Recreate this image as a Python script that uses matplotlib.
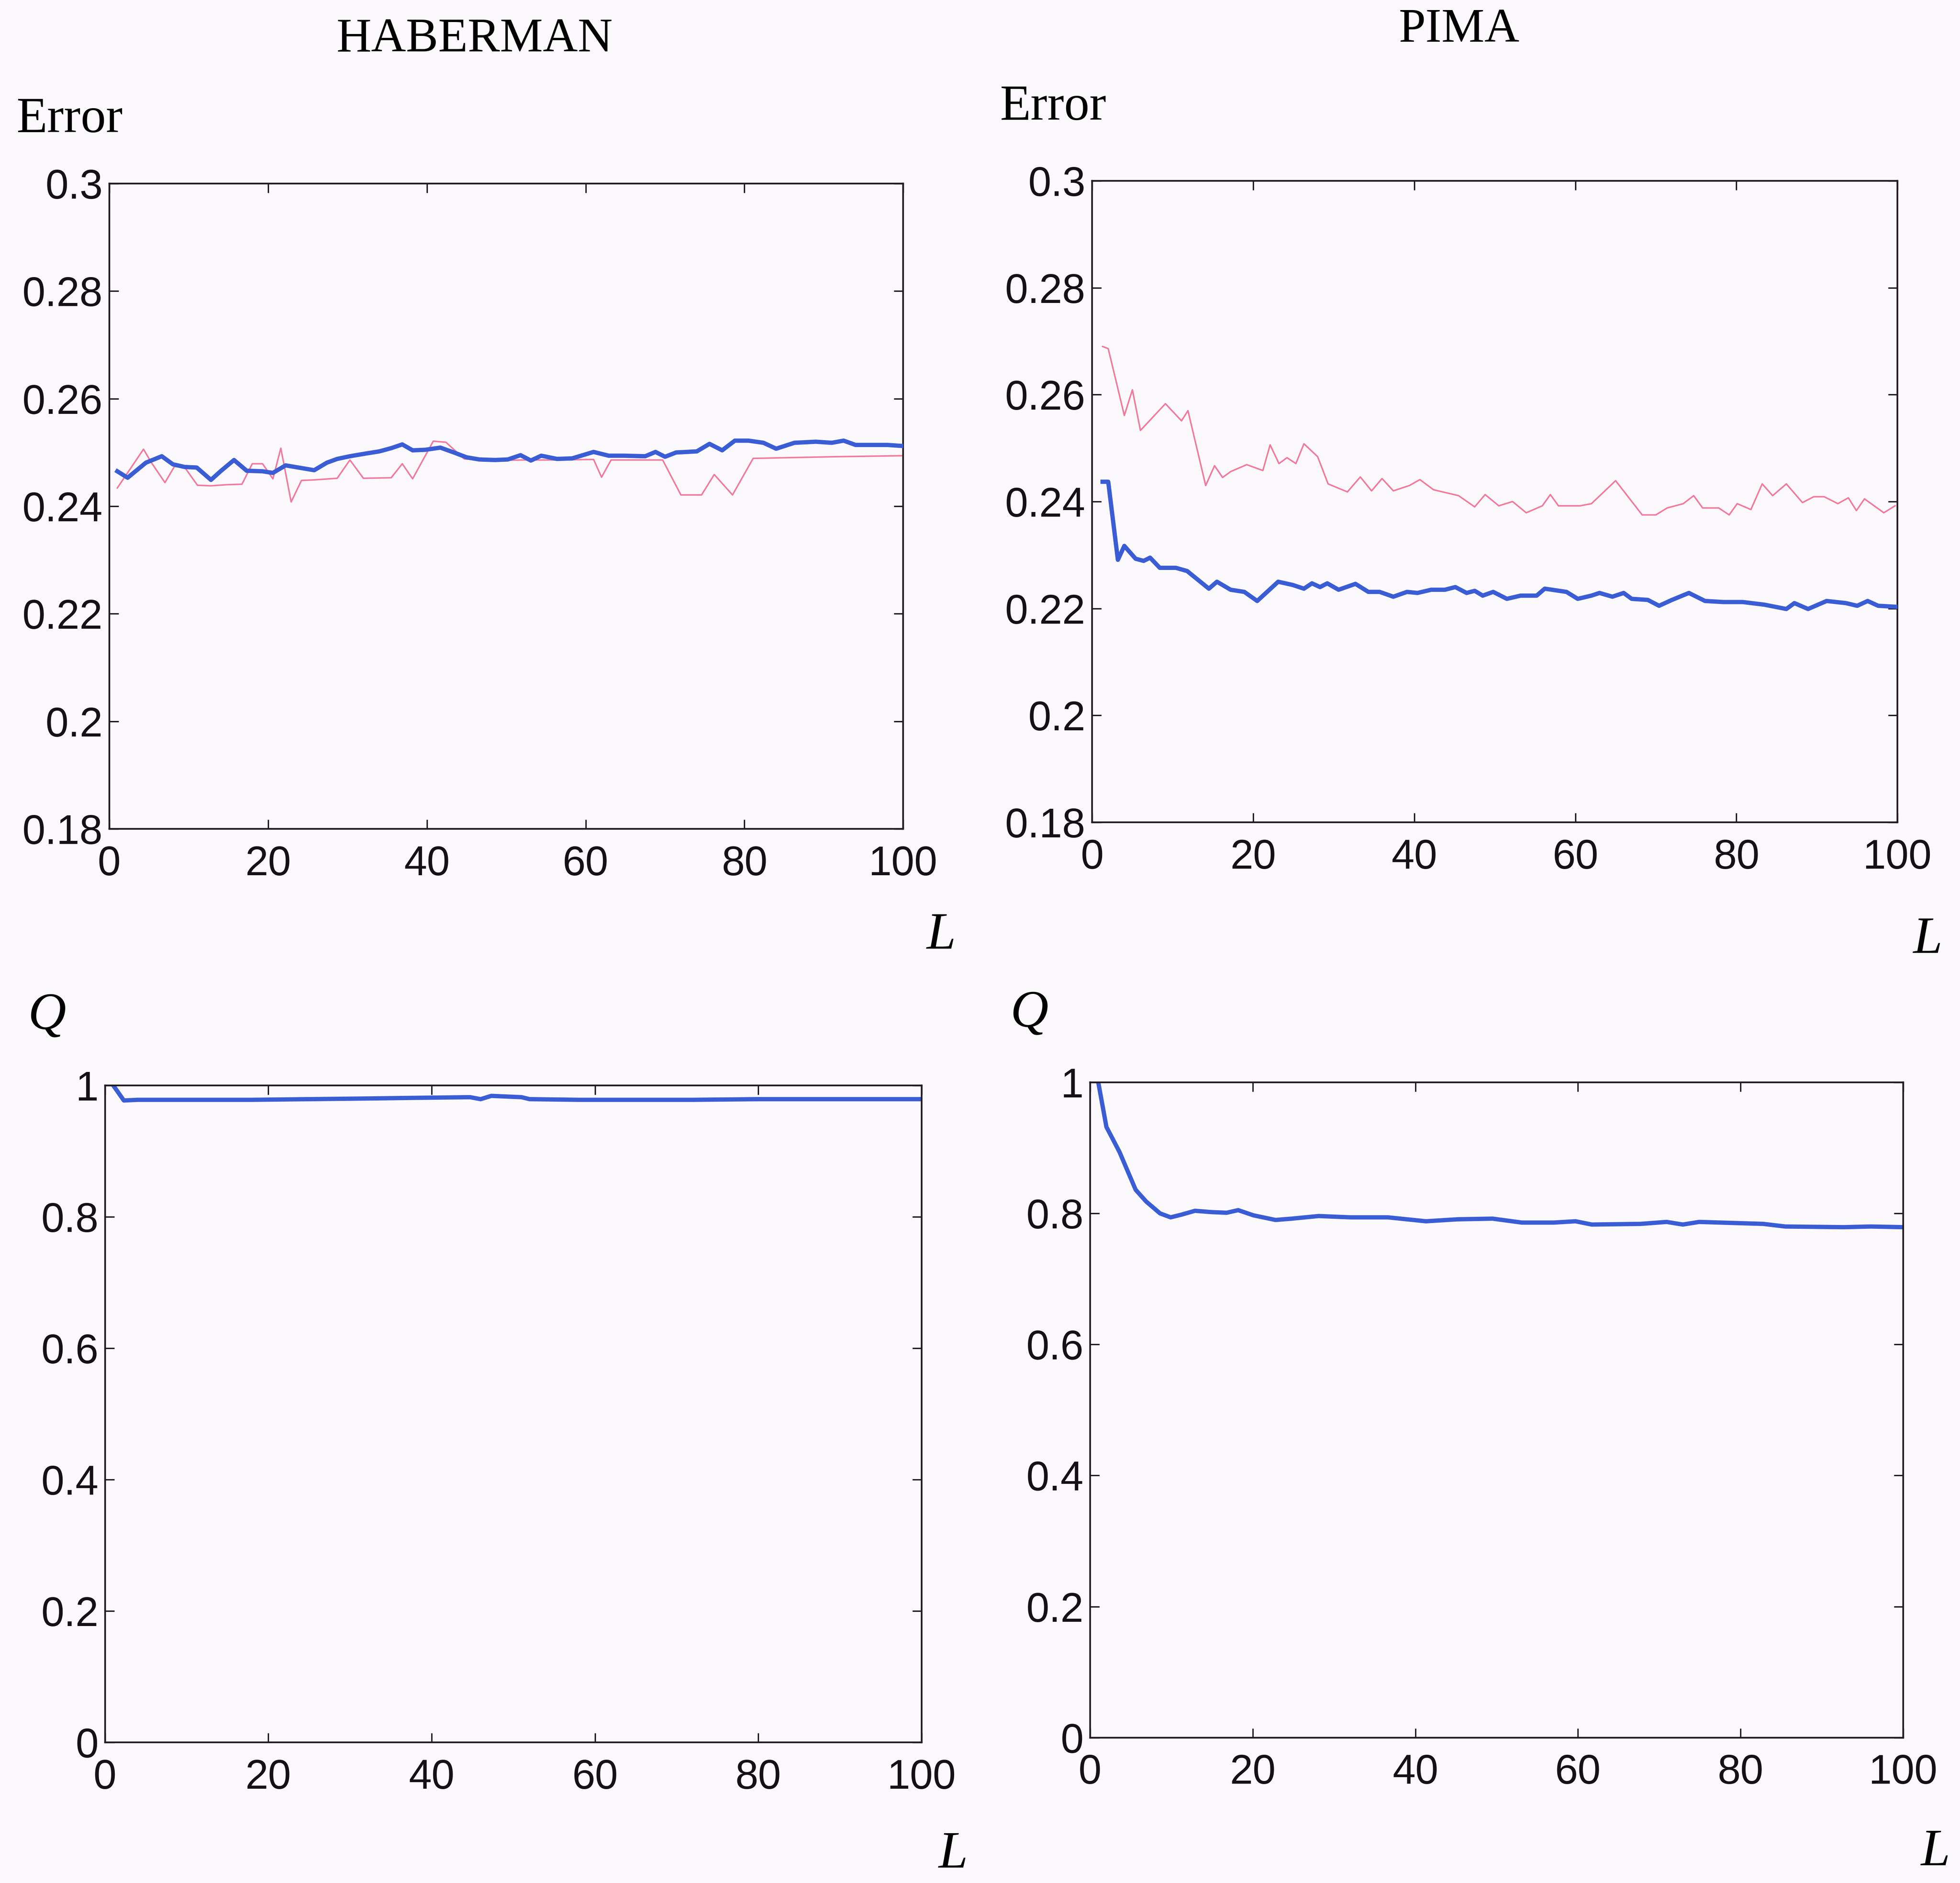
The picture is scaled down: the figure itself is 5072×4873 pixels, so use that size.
import numpy as np
import matplotlib.pyplot as plt

# ---- données ----

# HABERMAN, erreur : courbe bleue (épaisse)
hab_L_bleu = [1, 2.3, 4.6, 6.6, 8, 9.5, 11, 12.8, 14, 15.7, 17.3, 19.3, 20.6,
              22.2, 24.2, 25.8, 27.4, 28.7, 30.3, 32.3, 34, 35.5, 36.9, 38.2,
              39.8, 41.7, 43.4, 45, 46.6, 48.6, 50.2, 51.8, 53.1, 54.4, 56.4,
              58.3, 61, 62.9, 64.8, 67.5, 68.8, 70, 71.4, 74, 75.6, 77.2, 78.8,
              80.5, 82.4, 84, 86.3, 89, 91, 92.5, 94, 96.1, 98, 100]
hab_err_bleu = [0.2465, 0.2453, 0.2481, 0.2493, 0.2478, 0.2473, 0.2472, 0.2449,
                0.2465, 0.2486, 0.2466, 0.2465, 0.2462, 0.2476, 0.2471, 0.2467,
                0.2481, 0.2488, 0.2493, 0.2498, 0.2502, 0.2508, 0.2515, 0.2504,
                0.2505, 0.2509, 0.2500, 0.2491, 0.2487, 0.2486, 0.2487, 0.2495,
                0.2485, 0.2494, 0.2488, 0.2489, 0.2501, 0.2494, 0.2494, 0.2493,
                0.2501, 0.2492, 0.2500, 0.2502, 0.2516, 0.2504, 0.2522, 0.2522,
                0.2518, 0.2507, 0.2518, 0.2520, 0.2518, 0.2522, 0.2514, 0.2514,
                0.2514, 0.2512]

# HABERMAN, erreur : courbe rose (fine)
hab_L_rose = [1, 4.3, 5.3, 7, 8.2, 9.5, 11.1, 12.8, 14.7, 16.7, 18, 19.3, 20.6,
              21.6, 22.9, 24.2, 25.8, 28.7, 30.3, 32, 35.5, 36.9, 38.2, 40.8,
              42.4, 44.7, 48.6, 52, 56, 61, 62, 63.2, 69.7, 72, 74.6, 76.2,
              78.5, 81.1, 91, 100]
hab_err_rose = [0.2434, 0.2506, 0.2481, 0.2444, 0.2474, 0.2472, 0.2439, 0.2438,
                0.2440, 0.2441, 0.2479, 0.2479, 0.2451, 0.2508, 0.2408, 0.2448,
                0.2449, 0.2452, 0.2486, 0.2452, 0.2453, 0.2479, 0.2451, 0.2521,
                0.2519, 0.2488, 0.2485, 0.2486, 0.2486, 0.2487, 0.2454, 0.2486,
                0.2486, 0.2421, 0.2421, 0.2459, 0.2421, 0.2489, 0.2492, 0.2494]

# PIMA, erreur : courbe rose
pima_L_rose = [1.3, 2, 4, 5, 6, 9.1, 11.1, 11.9, 14.1, 15.2, 16.2, 17.2, 19.2,
               21.2, 22.1, 23.2, 24.2, 25.3, 26.3, 28, 29.3, 31.7, 33.3, 34.7,
               36, 37.4, 39.4, 40.7, 42.4, 45.5, 47.5, 48.8, 50.5, 52.2, 53.9,
               55.9, 56.9, 57.9, 60.6, 62, 65, 68.3, 70, 71.4, 73.4, 74.7, 75.8,
               77.8, 79.1, 80.1, 81.8, 83.2, 84.5, 86.2, 88.2, 89.6, 90.9, 92.6,
               93.9, 94.9, 95.9, 98.3, 99.7]
pima_err_rose = [0.2690, 0.2686, 0.2561, 0.2609, 0.2533, 0.2583, 0.2551, 0.2570,
                 0.2430, 0.2467, 0.2445, 0.2456, 0.2469, 0.2458, 0.2506, 0.2471,
                 0.2482, 0.2471, 0.2508, 0.2484, 0.2433, 0.2418, 0.2446, 0.2420,
                 0.2443, 0.2420, 0.2430, 0.2441, 0.2422, 0.2411, 0.2390, 0.2413,
                 0.2392, 0.2400, 0.2379, 0.2392, 0.2413, 0.2392, 0.2392, 0.2396,
                 0.2439, 0.2375, 0.2375, 0.2388, 0.2396, 0.2411, 0.2388, 0.2388,
                 0.2375, 0.2396, 0.2385, 0.2433, 0.2411, 0.2433, 0.2398, 0.2409,
                 0.2409, 0.2396, 0.2407, 0.2383, 0.2405, 0.2379, 0.2392]

# PIMA, erreur : courbe bleue
pima_L_bleu = [1.3, 2, 3.2, 4, 5.4, 6.4, 7.2, 8.4, 10.4, 11.8, 14.5, 15.5, 17.2,
               18.9, 20.5, 23.1, 24.9, 26.3, 27.3, 28.3, 29.2, 30.6, 32.7, 34.3,
               35.7, 37.4, 39.1, 40.4, 42.1, 43.8, 45.1, 46.5, 47.5, 48.5, 49.8,
               51.5, 53.2, 55.2, 56.2, 58.9, 60.3, 62, 63, 64.6, 66, 67, 69,
               70.4, 72, 74.1, 76.1, 78.4, 80.8, 83.5, 86.2, 87.2, 88.9, 91.2,
               93.6, 95, 96.3, 97.6, 100]
pima_err_bleu = [0.2437, 0.2437, 0.2291, 0.2317, 0.2293, 0.2289, 0.2295, 0.2276,
                 0.2276, 0.2270, 0.2237, 0.2250, 0.2235, 0.2231, 0.2214, 0.2250,
                 0.2244, 0.2237, 0.2247, 0.2240, 0.2247, 0.2235, 0.2246, 0.2231,
                 0.2231, 0.2222, 0.2231, 0.2229, 0.2235, 0.2235, 0.2240, 0.2229,
                 0.2233, 0.2224, 0.2231, 0.2218, 0.2224, 0.2224, 0.2237, 0.2231,
                 0.2218, 0.2224, 0.2229, 0.2222, 0.2229, 0.2218, 0.2216, 0.2205,
                 0.2216, 0.2229, 0.2214, 0.2212, 0.2212, 0.2207, 0.2199, 0.2210,
                 0.2199, 0.2214, 0.2210, 0.2205, 0.2214, 0.2205, 0.2203]

# HABERMAN, Q
hab_L_q = [1, 2.3, 4, 10, 18, 25, 32, 38, 44.7, 46, 47.3, 51, 52, 58, 64, 72,
           80, 90, 100]
hab_q = [1.0, 0.977, 0.978, 0.978, 0.978, 0.979, 0.980, 0.981, 0.982, 0.979,
         0.984, 0.982, 0.979, 0.978, 0.978, 0.978, 0.979, 0.979, 0.979]

# PIMA, Q
pima_L_q = [1, 2, 3.6, 5.6, 6.9, 8.6, 9.9, 11.2, 12.9, 14.9, 16.8, 18.2, 20.1,
            22.8, 24.8, 28.1, 32, 36.6, 41.3, 45.2, 49.5, 53.1, 57, 59.7, 61.7,
            67.7, 70.9, 72.9, 74.9, 82.8, 85.5, 92.7, 96, 100]
pima_q = [1.0, 0.932, 0.894, 0.836, 0.818, 0.800, 0.794, 0.798, 0.804, 0.802,
          0.801, 0.805, 0.797, 0.790, 0.792, 0.796, 0.794, 0.794, 0.788, 0.791,
          0.792, 0.786, 0.786, 0.788, 0.783, 0.784, 0.787, 0.783, 0.787, 0.784,
          0.780, 0.779, 0.780, 0.779]

x_ticks = [0, 20, 40, 60, 80, 100]
err_ticks = [0.18, 0.2, 0.22, 0.24, 0.26, 0.28, 0.3]
q_ticks = [0, 0.2, 0.4, 0.6, 0.8, 1]

# ---- style ----
bleu = '#3b5dd4'
rose = '#f27a9c'
fond = '#fbf9fc'
sans = 'Liberation Sans'
serif = 'Liberation Serif'

fig = plt.figure(figsize=(50.72, 48.73), dpi=100, facecolor=fond)

# position des 4 axes (fractions de la figure)
ax_tl = fig.add_axes([0.0558, 0.5598, 0.4050, 0.3427])
ax_tr = fig.add_axes([0.5572, 0.5633, 0.4109, 0.3407])
ax_bl = fig.add_axes([0.0536, 0.0747, 0.4166, 0.3489])
ax_br = fig.add_axes([0.5562, 0.0772, 0.4148, 0.3480])


def fmt(v):
    return ('%g' % v)


def habille(ax, yticks, ylim):
    ax.set_facecolor(fond)
    ax.set_xlim(0, 100)
    ax.set_ylim(*ylim)
    ax.set_xticks(x_ticks)
    ax.set_xticklabels([fmt(v) for v in x_ticks], fontfamily=sans, fontsize=77)
    ax.set_yticks(yticks)
    ax.set_yticklabels([fmt(v) for v in yticks], fontfamily=sans, fontsize=77)
    ax.tick_params(axis='both', direction='in', length=17, width=2.5,
                   top=True, right=True, colors='#151015')
    ax.tick_params(axis='x', pad=30)
    ax.tick_params(axis='y', pad=12)
    for sp in ax.spines.values():
        sp.set_linewidth(3.2)
        sp.set_color('#221a20')


# ---- erreurs ----
ax_tl.plot(hab_L_rose, hab_err_rose, color=rose, lw=2.8, zorder=2)
ax_tl.plot(hab_L_bleu, hab_err_bleu, color=bleu, lw=8, zorder=3)
habille(ax_tl, err_ticks, (0.18, 0.3))

ax_tr.plot(pima_L_rose, pima_err_rose, color=rose, lw=2.8, zorder=2)
ax_tr.plot(pima_L_bleu, pima_err_bleu, color=bleu, lw=8, zorder=3)
habille(ax_tr, err_ticks, (0.18, 0.3))

# ---- Q ----
ax_bl.plot(hab_L_q, hab_q, color=bleu, lw=8)
habille(ax_bl, q_ticks, (0, 1))

ax_br.plot(pima_L_q, pima_q, color=bleu, lw=8)
habille(ax_br, q_ticks, (0, 1))

# ---- textes ----
fig.text(0.2421, 0.9789, 'HABERMAN', fontfamily=serif, fontsize=90,
         ha='center', va='center')
fig.text(0.7445, 0.9840, 'PIMA', fontfamily=serif, fontsize=90,
         ha='center', va='center')
fig.text(0.0355, 0.9364, 'Error', fontfamily=serif, fontsize=94,
         ha='center', va='center')
fig.text(0.5373, 0.9430, 'Error', fontfamily=serif, fontsize=94,
         ha='center', va='center')

for (x, y, s) in [(0.4801, 0.5030, 'L'), (0.9836, 0.5007, 'L'),
                  (0.0240, 0.4603, 'Q'), (0.5252, 0.4615, 'Q'),
                  (0.4862, 0.0150, 'L'), (0.9874, 0.0162, 'L')]:
    fig.text(x, y, s, fontfamily=serif, fontstyle='italic', fontsize=98,
             ha='center', va='center')

plt.savefig('out.png', dpi=100, facecolor=fond)
